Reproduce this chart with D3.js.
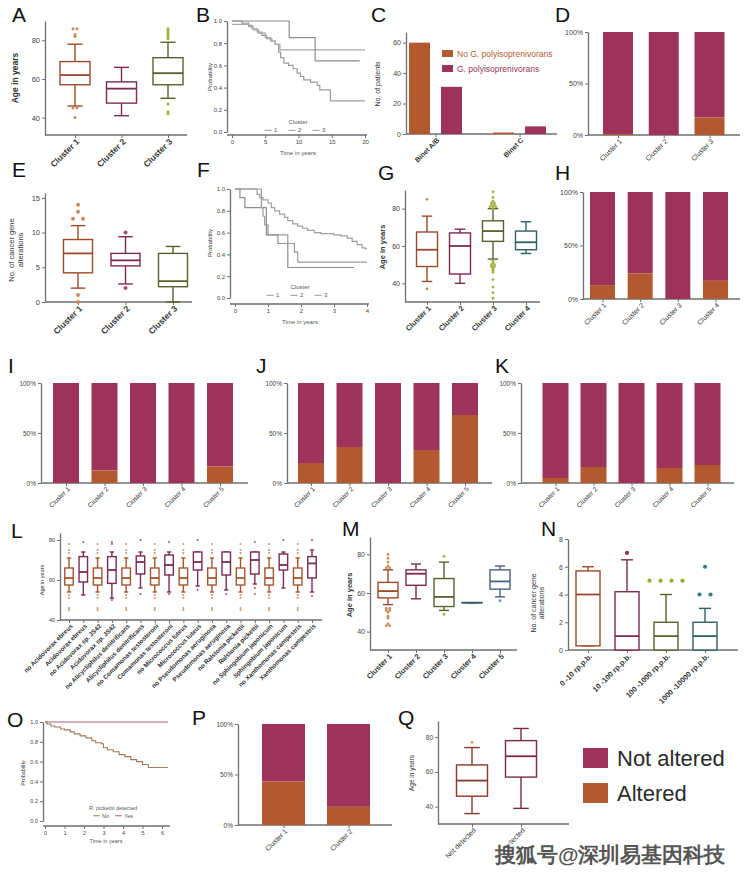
<!DOCTYPE html>
<html><head><meta charset="utf-8">
<script src="https://cdn.jsdelivr.net/npm/d3@7"></script>
<style>body{margin:0;background:#fff} svg text{font-family:"Liberation Sans",Arial,sans-serif}</style>
</head><body><svg id="c" width="750" height="876"></svg>
<script>
// ---------------- DATA ----------------
const clusters2 = ["Cluster 1","Cluster 2"];
const clusters3 = ["Cluster 1","Cluster 2","Cluster 3"];
const clusters4 = ["Cluster 1","Cluster 2","Cluster 3","Cluster 4"];
const clusters5 = ["Cluster 1","Cluster 2","Cluster 3","Cluster 4","Cluster 5"];
// box stats: [lowWhisker, q1, median, q3, highWhisker]
const ageA = [[46,57,62,69,78],[41,47.5,55,58.5,66],[50,57,63,71,79]];
const ageAOut = [[86,86,83,82,45,45,40],[],[86,85,84,83,82,81,47,43,42]];
const kmB1 = [[0,1],[1.5,0.98],[2.5,0.96],[3,0.93],[3.8,0.9],[4.5,0.87],[5.2,0.84],[6,0.82],[6.5,0.79],[7,0.72],[7.3,0.67],[7.8,0.62],[8.5,0.6],[9.2,0.57],[9.8,0.53],[10.3,0.5],[10.8,0.47],[11.8,0.45],[12.8,0.42],[13.2,0.38],[14.8,0.28],[20,0.28]];
const kmB2 = [[0,0.97],[2.5,0.95],[3.2,0.92],[4,0.89],[5,0.85],[5.8,0.82],[6.5,0.79],[7.2,0.74],[20,0.74]];
const kmB3 = [[0,1],[8.6,0.85],[12.5,0.64],[19.2,0.64]];
const binetGroups = ["Binet A/B","Binet C"];
const noGx = [60, 1];
const withGx = [31, 5];
const gxLegend = ["No G. polyisoprenivorans","G. polyisoprenivorans"];
const alteredD = [0.01, 0, 0.17];
const genesE = [[2,4.2,7,9,11],[2.6,5.2,6,7,9.4],[0,2.2,3,7,8]];
const genesEOut = [[13,14,12,12,1,0],[10,2],[]];
const kmF1 = [[0,1],[0.67,0.95],[0.75,0.92],[0.85,0.9],[1.0,0.87],[1.1,0.83],[1.2,0.8],[1.35,0.77],[1.5,0.74],[1.6,0.71],[1.75,0.68],[1.9,0.66],[2.05,0.64],[2.2,0.62],[2.4,0.6],[2.6,0.59],[3.0,0.58],[3.2,0.57],[3.4,0.55],[3.55,0.52],[3.7,0.49],[3.85,0.46],[3.95,0.45],[4.0,0.45]];
const kmF2 = [[0,1],[0.15,0.92],[0.3,0.83],[0.95,0.58],[1.3,0.5],[1.6,0.28],[3.6,0.28]];
const kmF3 = [[0,1],[0.8,0.83],[0.85,0.75],[0.9,0.67],[1.0,0.58],[1.6,0.5],[1.8,0.42],[1.9,0.33],[4.0,0.33]];
const ageG = [[41,49,58,67.5,76],[40,45,60,67,69],[53,62.5,68,73.5,80],[56,58,62,68,73]];
const ageGOut = [[85,37],[],[89,86,84,83,83,82,82,81,81,81,80,52,51,50,50,49,49,48,47,46,42,38,35,32],[]];
const alteredH = [0.13, 0.24, 0, 0.17];
const alteredI = [0, 0.125, 0, 0, 0.165];
const alteredJ = [0.20, 0.36, 0, 0.33, 0.68];
const alteredK = [0.05, 0.16, 0, 0.15, 0.18];
const speciesL = ["no Acidovorax ebreus","Acidovorax ebreus","no Acidovorax sp. JS42","Acidovorax sp. JS42","no Alicycliphilus denitrificans","Alicycliphilus denitrificans","no Comamonas testosteroni","Comamonas testosteroni","no Micrococcus luteus","Micrococcus luteus","no Pseudomonas aeruginosa","Pseudomonas aeruginosa","no Ralstonia pickettii","Ralstonia pickettii","no Sphingobium japonicum","Sphingobium japonicum","no Xanthomonas campestris","Xanthomonas campestris"];
const ageL = [[54,57.5,61,66,71],[52.5,59,64,71.7,74],[54,57.5,61,66,71],[51,58.3,65,71.7,74],[54,57.5,61,66,71],[56,63,69,72,74],[54,57.5,61,66,71],[54,62.5,67.5,72.5,74],[54,57.5,61,66,71],[57,65,69,74,74],[54,57.5,61,66,71],[55,62.5,69,74,74],[54,57.5,61,66,71],[58,63,70,74,74],[54,57.5,61,66,71],[56,65,67.5,73,74],[54,57.5,61,66,71],[54,61,68.3,71.7,75]];
const ageLOut = [[78,75,73.5,52.5,51,46,45],[79],[78,75,73.5,52.5,51,46,45],[79,78,50],[78,75,73.5,52.5,51,46,45],[80,53],[78,75,73.5,52.5,51,46,45],[79,53],[78,75,73.5,52.5,51,46,45],[80,55],[78,75,73.5,52.5,51,46,45],[53],[78,75,73.5,52.5,51,46,45],[79,56,53],[78,75,73.5,52.5,51,46,45],[80],[78,75,73.5,52.5,51,46,45],[80,52]];
const ageM = [[54,57.5,61,65.5,72],[57,64,70,72,75],[51,53,58,67.5,76],[55,55,55,55,55],[58,62,66,72,74]];
const ageMOut = [[80,78,76,74,73,73,52,52,51,51,50,48,47,44,43,43],[],[79,49],[],[56]];
const rppbN = ["0 -10 rp.p.b.","10 -100 rp.p.b.","100 -1000 rp.p.b.","1000 -10000 rp.p.b."];
const genesN = [[0.3,0.3,4,5.7,6],[0,0,1,4.2,6.5],[0,0,1,2,4],[0,0,1,2,3]];
const genesNOut = [[],[7],[5,5,5,5],[4,6,4]];
const kmONo = [[0,1],[0.1,0.98],[0.3,0.96],[0.5,0.95],[0.8,0.93],[1.0,0.92],[1.3,0.9],[1.5,0.88],[1.8,0.86],[2.1,0.84],[2.4,0.81],[2.6,0.79],[2.9,0.78],[3.0,0.74],[3.2,0.72],[3.5,0.7],[3.8,0.67],[4.1,0.65],[4.4,0.62],[4.7,0.6],[5.0,0.57],[5.3,0.54],[6.3,0.54]];
const kmOYes = [[0,1],[6.3,1]];
const alteredP = [0.43, 0.18];
const detectQ = ["Not detected","Detected"];
const ageQ = [[36,46,55,64,74],[39,57,69,78,85]];
const ageQOut = [[77],[]];
const legendLabels = ["Not altered","Altered"];
const watermark = "搜狐号@深圳易基因科技";

// ---------------- STYLE ----------------
const svg = d3.select("#c");
const AX = "#6e6e6e";
const MAROON = "#9d325a", ORANGE = "#b3592f";
const C_LINE = ["#9a4a28","#7d2a50","#55632a","#2f6160","#4a6080"];
const C_DOT = ["#c98a60","#a85078","#a3b040","#3a8a80","#7090b0"];

function yAxis(y, x, ticks, fmt, fs) {
  const g = svg.append("g").attr("transform", `translate(${x},0)`)
    .call(d3.axisLeft(y).tickValues(ticks).tickFormat(fmt).tickSize(3).tickSizeOuter(0).tickPadding(2));
  g.select(".domain").attr("stroke", AX).attr("stroke-width", 1.3);
  g.selectAll(".tick line").attr("stroke", AX);
  g.selectAll("text").attr("font-size", fs || 7).attr("fill", "#444");
  return g;
}
function xLine(x0, x1, y) {
  svg.append("line").attr("x1", x0).attr("x2", x1).attr("y1", y).attr("y2", y).attr("stroke", AX).attr("stroke-width", 1.3);
}
function catAxis(scale, x0, x1, y, fs, bold) {
  xLine(x0, x1, y);
  const g = svg.append("g").attr("transform", `translate(0,${y})`)
    .call(d3.axisBottom(scale).tickSize(3).tickSizeOuter(0));
  g.select(".domain").remove();
  g.selectAll(".tick line").attr("stroke", AX);
  g.selectAll("text").attr("y", 5).attr("dy", "0.35em").attr("x", -2)
    .attr("transform", "rotate(-45)").attr("text-anchor", "end")
    .attr("font-size", fs).attr("font-weight", bold ? "bold" : "normal").attr("fill", "#333");
}
function numAxisX(x, y, ticks, fs, x0, x1) {
  xLine(x0, x1, y);
  const g = svg.append("g").attr("transform", `translate(0,${y})`)
    .call(d3.axisBottom(x).tickValues(ticks).tickFormat(d3.format("d")).tickSize(3).tickSizeOuter(0).tickPadding(2));
  g.select(".domain").remove();
  g.selectAll(".tick line").attr("stroke", AX);
  g.selectAll("text").attr("font-size", fs).attr("fill", "#444");
}
function yLabel(lines, x, y, fs, bold) {
  const t = svg.append("text").attr("transform", `translate(${x},${y}) rotate(-90)`)
    .attr("text-anchor", "middle").attr("font-size", fs).attr("font-weight", bold ? "bold" : "normal").attr("fill", "#333");
  lines.forEach((l, i) => t.append("tspan").attr("x", 0).attr("dy", i ? fs * 1.15 : 0).text(l));
}
function letter(s, x, y) {
  svg.append("text").attr("x", x).attr("y", y).attr("font-size", 21).attr("font-family", "Open Sans, Liberation Sans, sans-serif").attr("fill", "#111").text(s);
}
function boxes(x, y, cats, stats, outs, w, cols, dcols, spread, r) {
  cats.forEach((c, i) => {
    const [lo, q1, md, q3, hi] = stats[i];
    const cx = x(c), col = cols[i];
    const g = svg.append("g").attr("stroke", col).attr("stroke-width", 1.4).attr("fill", "none");
    g.append("line").attr("x1", cx).attr("x2", cx).attr("y1", y(lo)).attr("y2", y(q1));
    g.append("line").attr("x1", cx).attr("x2", cx).attr("y1", y(q3)).attr("y2", y(hi));
    g.append("line").attr("x1", cx - w * 0.25).attr("x2", cx + w * 0.25).attr("y1", y(lo)).attr("y2", y(lo));
    g.append("line").attr("x1", cx - w * 0.25).attr("x2", cx + w * 0.25).attr("y1", y(hi)).attr("y2", y(hi));
    g.append("rect").attr("x", cx - w / 2).attr("width", w).attr("y", y(q3)).attr("height", Math.max(0.01, y(q1) - y(q3))).attr("fill", "#fff");
    g.append("line").attr("x1", cx - w / 2).attr("x2", cx + w / 2).attr("y1", y(md)).attr("y2", y(md)).attr("stroke-width", 1.8);
    const counts = {}, seen = {};
    (outs[i] || []).forEach(v => counts[v] = (counts[v] || 0) + 1);
    (outs[i] || []).forEach(v => {
      const k = seen[v] = (seen[v] || 0) + 1;
      const off = (k - 1 - (counts[v] - 1) / 2) * spread;
      svg.append("circle").attr("cx", cx + off).attr("cy", y(v)).attr("r", r).attr("fill", dcols[i]);
    });
  });
}
function stacked(x, y, cats, altered, w) {
  cats.forEach((c, i) => {
    const cx = x(c);
    svg.append("rect").attr("x", cx - w / 2).attr("width", w).attr("y", y(1)).attr("height", y(altered[i]) - y(1)).attr("fill", MAROON);
    if (altered[i] > 0) svg.append("rect").attr("x", cx - w / 2).attr("width", w).attr("y", y(altered[i])).attr("height", y(0) - y(altered[i])).attr("fill", ORANGE);
  });
}
function km(x, y, pts, col, wd) {
  let d = `M${x(pts[0][0])},${y(pts[0][1])}`;
  for (let i = 1; i < pts.length; i++) d += `H${x(pts[i][0])}V${y(pts[i][1])}`;
  svg.append("path").attr("d", d).attr("fill", "none").attr("stroke", col).attr("stroke-width", wd || 1.2);
}
function kmLegend(title, items, cx, y, fs, cols) {
  svg.append("text").attr("x", cx).attr("y", y).attr("text-anchor", "middle").attr("font-size", fs).attr("fill", "#555").text(title);
  const n = items.length, step = fs * 4;
  items.forEach((it, i) => {
    const ix = cx + (i - (n - 1) / 2) * step;
    svg.append("line").attr("x1", ix - fs * 1.6).attr("x2", ix - fs * 0.4).attr("y1", y + fs * 1.05).attr("y2", y + fs * 1.05).attr("stroke", cols[i]).attr("stroke-width", 1);
    svg.append("text").attr("x", ix).attr("y", y + fs * 1.4).attr("font-size", fs).attr("fill", "#555").text(it);
  });
}
const f1 = d3.format(".1f"), pct = d => d3.format(".0%")(d);

// ---------- A ----------
letter("A", 12, 22);
const yA = d3.scaleLinear().domain([31, 90]).range([135, 21]);
const xA = d3.scalePoint().domain(clusters3).range([75, 168]);
yAxis(yA, 45, [40, 60, 80], d3.format("d"), 7.5);
catAxis(xA, 45, 187, 135, 8.5, true);
boxes(xA, yA, clusters3, ageA, ageAOut, 30, C_LINE, C_DOT, 4, 1.5);
yLabel(["Age in years"], 18, 78, 8.5, true);

// ---------- B ----------
letter("B", 196, 22);
const xB = d3.scaleLinear().domain([0, 20]).range([232, 365]);
const yB = d3.scaleLinear().domain([0, 1]).range([132, 21]);
yAxis(yB, 227, [0, 0.2, 0.4, 0.6, 0.8, 1], f1, 6);
numAxisX(xB, 135, [0, 5, 10, 15, 20], 6, 227, 367);
km(xB, yB, kmB1, "#9a9a9a"); km(xB, yB, kmB2, "#a8a8a8"); km(xB, yB, kmB3, "#8c8c8c");
kmLegend("Cluster", ["1", "2", "3"], 298, 124, 6, ["#999", "#999", "#999"]);
svg.append("text").attr("x", 298).attr("y", 155).attr("text-anchor", "middle").attr("font-size", 6).attr("fill", "#555").text("Time in years");
yLabel(["Probability"], 212, 77, 6, false);

// ---------- C ----------
letter("C", 371, 22);
const yC = d3.scaleLinear().domain([0, 67]).range([134, 32]);
const xC = d3.scalePoint().domain(binetGroups).range([435.5, 519.5]);
yAxis(yC, 406, [0, 20, 40, 60], d3.format("d"), 7);
catAxis(xC, 406, 557, 134, 7, true);
binetGroups.forEach((g, i) => {
  svg.append("rect").attr("x", xC(g) - 16 - 10.5).attr("width", 21).attr("y", yC(noGx[i])).attr("height", yC(0) - yC(noGx[i])).attr("fill", ORANGE);
  svg.append("rect").attr("x", xC(g) + 16 - 10.5).attr("width", 21).attr("y", yC(withGx[i])).attr("height", yC(0) - yC(withGx[i])).attr("fill", MAROON);
});
gxLegend.forEach((t, i) => {
  svg.append("rect").attr("x", 442).attr("y", 50 + i * 15).attr("width", 11).attr("height", 7).attr("fill", i ? MAROON : ORANGE);
  svg.append("text").attr("x", 457).attr("y", 57 + i * 15).attr("font-size", 8.5).attr("fill", i ? MAROON : ORANGE).text(t);
});
yLabel(["No. of patients"], 380, 84, 7, false);

// ---------- D ----------
letter("D", 555, 22);
const yD = d3.scaleLinear().domain([0, 1]).range([135, 32]);
const xD = d3.scalePoint().domain(clusters3).range([618, 709.5]);
yAxis(yD, 588, [0, 0.5, 1], pct, 7);
catAxis(xD, 588, 740, 135, 7, false);
stacked(xD, yD, clusters3, alteredD, 30);

// ---------- E ----------
letter("E", 12, 177);
const yE = d3.scaleLinear().domain([0, 15.7]).range([302, 193]);
const xE = d3.scalePoint().domain(clusters3).range([78, 173]);
yAxis(yE, 45, [0, 5, 10, 15], d3.format("d"), 7.5);
catAxis(xE, 45, 192, 302, 8.5, true);
boxes(xE, yE, clusters3, genesE, genesEOut, 29, C_LINE, C_DOT, 10, 2);
yLabel(["No. of cancer gene", "alterations"], 14, 250, 7.5, false);

// ---------- F ----------
letter("F", 197, 177);
const xF = d3.scaleLinear().domain([0, 4]).range([235, 367]);
const yF = d3.scaleLinear().domain([0, 1]).range([298, 189]);
yAxis(yF, 230, [0, 0.2, 0.4, 0.6, 0.8, 1], f1, 6);
numAxisX(xF, 304, [0, 1, 2, 3, 4], 6, 230, 369);
km(xF, yF, kmF1, "#a0a0a0"); km(xF, yF, kmF2, "#8c8c8c"); km(xF, yF, kmF3, "#9a9a9a");
kmLegend("Cluster", ["1", "2", "3"], 300, 289, 6, ["#999", "#999", "#999"]);
svg.append("text").attr("x", 300).attr("y", 324).attr("text-anchor", "middle").attr("font-size", 6).attr("fill", "#555").text("Time in years");
yLabel(["Probability"], 212, 243, 6, false);

// ---------- G ----------
letter("G", 378, 180);
const yG = d3.scaleLinear().domain([30, 90]).range([302, 190]);
const xG = d3.scalePoint().domain(clusters4).range([427, 526]);
yAxis(yG, 405, [40, 60, 80], d3.format("d"), 7);
catAxis(xG, 405, 540, 302, 7.5, true);
boxes(xG, yG, clusters4, ageG, ageGOut, 21, C_LINE, C_DOT, 3, 1.4);
yLabel(["Age in years"], 385, 247, 7.5, true);

// ---------- H ----------
letter("H", 555, 180);
const yH = d3.scaleLinear().domain([0, 1]).range([299, 192]);
const xH = d3.scalePoint().domain(clusters4).range([602.5, 715.5]);
yAxis(yH, 583, [0, 0.5, 1], pct, 7);
catAxis(xH, 583, 740, 299, 7, false);
stacked(xH, yH, clusters4, alteredH, 25);

// ---------- I, J, K ----------
letter("I", 8, 373); letter("J", 256, 373); letter("K", 495, 373);
const yIJK = d3.scaleLinear().domain([0, 1]).range([483, 383]);
const xI = d3.scalePoint().domain(clusters5).range([66, 220]);
const xJ = d3.scalePoint().domain(clusters5).range([311, 465]);
const xK = d3.scalePoint().domain(clusters5).range([555.5, 707.5]);
[[xI, 41, 248, alteredI], [xJ, 287, 492, alteredJ], [xK, 521, 734, alteredK]].forEach(([xs, a0, a1, alt]) => {
  yAxis(yIJK, a0, [0, 0.5, 1], pct, 6.5);
  catAxis(xs, a0, a1, 483, 6.5, false);
  stacked(xs, yIJK, clusters5, alt, 26);
});

// ---------- L ----------
letter("L", 11, 538);
const yL = d3.scaleLinear().domain([40, 83.5]).range([620, 533]);
const xL = d3.scalePoint().domain(speciesL).range([69, 312]);
yAxis(yL, 60, [40, 60, 80], d3.format("d"), 5.5);
catAxis(xL, 60, 322, 620, 6.3, true);
const colL = speciesL.map((s, i) => i % 2 ? "#7a2a55" : "#a5552c");
const dotL = speciesL.map((s, i) => i % 2 ? "#a86088" : "#d49a70");
boxes(xL, yL, speciesL, ageL, ageLOut, 8.5, colL, dotL, 2.5, 1.1);
yLabel(["Age in years"], 44, 580, 5.5, false);

// ---------- M ----------
letter("M", 342, 536);
const yM = d3.scaleLinear().domain([30.5, 89]).range([650, 537]);
const xM = d3.scalePoint().domain(clusters5).range([388, 500]);
yAxis(yM, 370, [40, 60, 80], d3.format("d"), 7);
catAxis(xM, 370, 517, 650, 7.5, true);
boxes(xM, yM, clusters5, ageM, ageMOut, 20, C_LINE, C_DOT, 3.5, 1.4);
yLabel(["Age in years"], 352, 595, 7.5, true);

// ---------- N ----------
letter("N", 541, 536);
const yN = d3.scaleLinear().domain([0, 8]).range([650, 539]);
const xN = d3.scalePoint().domain(rppbN).range([588, 705]);
yAxis(yN, 568, [0, 2, 4, 6, 8], d3.format("d"), 7);
catAxis(xN, 568, 738, 650, 7.5, true);
boxes(xN, yN, rppbN, genesN, genesNOut, 24, [C_LINE[0], C_LINE[1], C_LINE[2], C_LINE[3]], ["#c98a60", "#8a3050", "#9aaa30", "#2f7f78"], 11, 2.1);
yLabel(["No. of cancer gene", "alterations"], 536, 603, 7, false);

// ---------- O ----------
letter("O", 7, 727);
const xO = d3.scaleLinear().domain([0, 6]).range([45, 162]);
const yO = d3.scaleLinear().domain([0, 1]).range([821, 722]);
yAxis(yO, 43, [0, 0.2, 0.4, 0.6, 0.8, 1], f1, 5.5);
numAxisX(xO, 826, [0, 1, 2, 3, 4, 5, 6], 5.5, 43, 170);
km(xO, yO, kmOYes, "#a86078", 1.1);
km(xO, yO, kmONo, "#a27a5a", 1.1);
kmLegend("R. pickettii detected", ["No", "Yes"], 113, 810, 5.5, ["#a27a5a", "#a86078"]);
svg.append("text").attr("x", 106).attr("y", 843).attr("text-anchor", "middle").attr("font-size", 5.5).attr("fill", "#555").text("Time in years");
yLabel(["Probability"], 25, 773, 5.5, false);

// ---------- P ----------
letter("P", 192, 725);
const yP = d3.scaleLinear().domain([0, 1]).range([825, 724]);
const xP = d3.scalePoint().domain(clusters2).range([283.5, 348.5]);
yAxis(yP, 238, [0, 0.5, 1], pct, 6.5);
catAxis(xP, 238, 392, 825, 7, false);
stacked(xP, yP, clusters2, alteredP, 43);

// ---------- Q ----------
letter("Q", 398, 725);
const yQ = d3.scaleLinear().domain([30, 89.3]).range([824, 721]);
const xQ = d3.scalePoint().domain(detectQ).range([472, 521]);
yAxis(yQ, 438, [40, 60, 80], d3.format("d"), 6.5);
catAxis(xQ, 438, 569, 824, 7, false);
boxes(xQ, yQ, detectQ, ageQ, ageQOut, 31, ["#8a3a28", "#7a2a48"], ["#c98a60", "#a85078"], 3, 1.2);
yLabel(["Age in years"], 414, 773, 6.5, false);

// ---------- Legend ----------
legendLabels.forEach((t, i) => {
  svg.append("rect").attr("x", 583).attr("y", 748 + i * 35).attr("width", 25).attr("height", 20).attr("fill", i ? ORANGE : MAROON);
  svg.append("text").attr("x", 617).attr("y", 766 + i * 35).attr("font-size", 22).attr("fill", "#2a2a2a").text(t);
});

// ---------- Watermark ----------
svg.append("text").attr("x", 495).attr("y", 862).attr("font-size", 21).attr("font-weight", "bold")
  .attr("font-family", "Noto Sans CJK SC, sans-serif").attr("fill", "#555").attr("stroke", "#fff").attr("stroke-width", 2)
  .attr("paint-order", "stroke").text(watermark);
</script></body></html>
